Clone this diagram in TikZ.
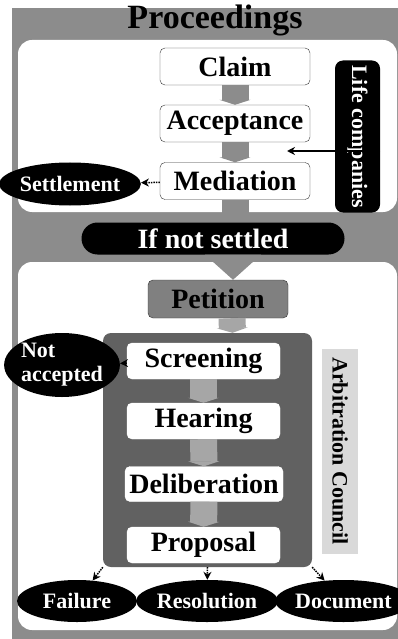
\documentclass[tikz,border=0pt]{standalone}
\usepackage{fontspec}
\setmainfont{Liberation Serif}
\usetikzlibrary{shapes.geometric,arrows.meta}
\begin{document}
\begin{tikzpicture}[x=1pt,y=-1pt,
    stepbox/.style={draw=black!80, fill=white, rounded corners=5pt, inner sep=0pt,
        minimum width=150pt, minimum height=37pt, font=\bfseries\fontsize{28}{30}\selectfont},
    innerbox/.style={stepbox, draw=white, minimum width=153pt, minimum height=36pt},
    oval/.style={ellipse, fill=black, text=white, inner sep=0pt, font=\bfseries\fontsize{22}{24}\selectfont},
    pipe/.style={draw=black!45, line width=27pt, -{Triangle[length=5pt,width=31pt]}},
    link/.style={black, line width=1.5pt, densely dotted, -{Stealth[length=8pt,width=8pt]}},
  ]
    \useasboundingbox (0,0) rectangle (398,639);
    \fill[black!45] (12,8) rectangle (398,639);
    \node[font=\bfseries\fontsize{34}{36}\selectfont] (title) at (215,20) {Proceedings};

    % upper panel
    \fill[white, rounded corners=14pt] (18,40) rectangle (397,212);
    \node[stepbox] (claim) at (235,66.5) {Claim};
    \node[stepbox] (accept) at (235,123.5) {Acceptance};
    \node[stepbox] (mediation) at (235,181) {Mediation};
    \draw[pipe] (claim) -- (accept);
    \draw[pipe] (accept) -- (mediation);
    \node[rounded corners=8pt, fill=black, text=white, rotate=-90, inner sep=0pt,
        minimum width=152pt, minimum height=45pt, font=\bfseries\fontsize{22}{24}\selectfont]
        (life) at (357.5,136.5) {Life companies};
    \coordinate (gap) at (287,151);
    \draw[link, solid] (life.north |- gap) -- (gap);
    \node[oval, minimum width=110pt, minimum height=43pt] (settle) at (70,184) {Settlement};
    \draw[link] (mediation) -- (settle);

    % if not settled
    \node[rounded corners=16pt, fill=black, text=white, inner sep=0pt,
        minimum width=263pt, minimum height=32pt, font=\bfseries\fontsize{28}{30}\selectfont]
        (notset) at (213,238.5) {If not settled};
    \draw[draw=black!45, line width=27pt] (mediation) -- (notset.north -| mediation);

    % lower panel
    \fill[white, rounded corners=14pt] (18,262) rectangle (397,630);
    \node[stepbox, fill=black!50, minimum width=140pt, minimum height=38pt] (petition) at (218,299) {Petition};
    \fill[black!45] ([xshift=-8pt]notset.south) -- ([xshift=48pt]notset.south)
        -- ([xshift=15pt]petition.north) -- cycle;
    \node[fill=black!62, rounded corners=8pt, inner sep=0pt,
        minimum width=209pt, minimum height=234pt] (council) at (207.5,450) {};
    \draw[pipe, draw=black!35] ([xshift=14pt]petition.south) -- ([xshift=25pt]council.north);
    \node[fill=black!15, rotate=-90, inner sep=0pt, minimum width=205pt, minimum height=36pt,
        font=\bfseries\fontsize{22}{24}\selectfont] (cname) at (340,451) {Arbitration Council};

    \node[innerbox] (screen) at (203.5,361) {Screening};
    \node[innerbox] (hear) at (203.5,421) {Hearing};
    \node[innerbox, minimum width=158pt, minimum height=35pt] (delib) at (204,484) {Deliberation};
    \node[innerbox] (proposal) at (203.5,545) {Proposal};
    \draw[pipe, draw=black!35] (screen) -- (hear);
    \draw[pipe, draw=black!35] (hear) -- (delib);
    \draw[pipe, draw=black!35] (delib) -- (proposal);

    \node[oval, minimum width=96pt, minimum height=64pt, align=left] (notacc) at (62,365) {Not\\accepted};
    \draw[link, densely dashed] (screen) -- (notacc);

    \node[oval, minimum width=120pt, minimum height=42pt] (failure) at (77,601) {Failure};
    \node[oval, minimum width=112pt, minimum height=42pt] (resolution) at (207,601) {Resolution};
    \node[oval, minimum width=107pt, minimum height=42pt] (document) at (343.5,601) {Document};
    \draw[link] (council.south west) -- (failure);
    \draw[link] (council.south) -- (resolution);
    \draw[link] (council.south east) -- (document);
\end{tikzpicture}
\end{document}
